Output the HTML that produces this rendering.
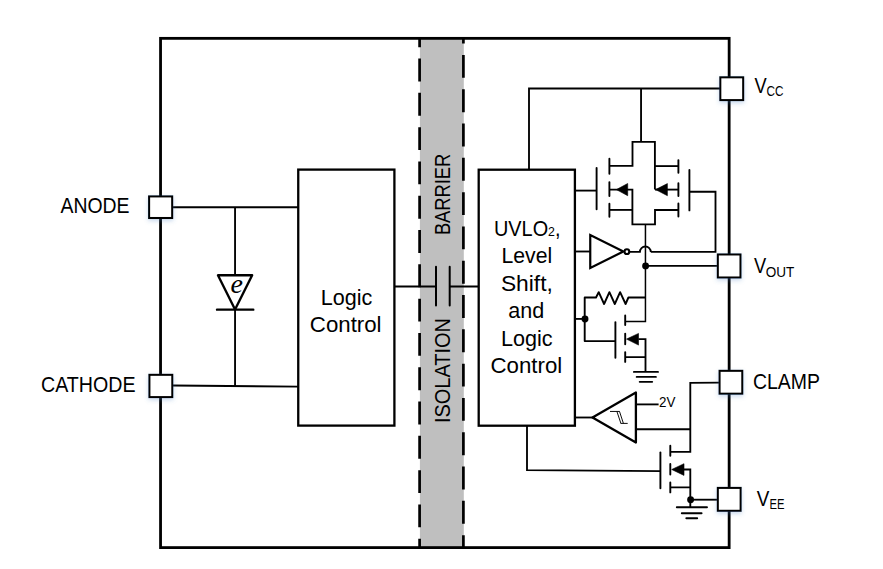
<!DOCTYPE html>
<html lang="en">
<head>
<meta charset="utf-8">
<title>Isolated gate driver block diagram</title>
<style>
  html, body { margin: 0; padding: 0; background: #ffffff; }
  body { width: 883px; height: 569px; overflow: hidden; }
  svg { display: block; }
  .w  { fill: none; stroke: #000; stroke-width: 1.85; stroke-linecap: butt; stroke-linejoin: miter; }
  .wr { fill: none; stroke: #000; stroke-width: 1.9; stroke-linecap: round; stroke-linejoin: round; }
  .b  { fill: #fff; stroke: #000; stroke-width: 2.3; }
  .t  { fill: none; stroke: #000; stroke-width: 2.1; stroke-linejoin: round; }
  .pin { fill: #fff; stroke: #000; stroke-width: 2.05; }
  .dot { fill: #000; stroke: none; }
  .arr { fill: #000; stroke: #000; stroke-width: 0.6; stroke-linejoin: round; }
  text { font-family: "Liberation Sans", sans-serif; fill: #000; }
  .lbl { font-size: 21.8px; }
  .sub { font-size: 15px; }
</style>
</head>
<body>
<svg width="883" height="569" viewBox="0 0 883 569">
  <defs>
    <filter id="sh" x="-40%" y="-40%" width="180%" height="190%">
      <feGaussianBlur in="SourceAlpha" stdDeviation="2" result="bl"/>
      <feOffset in="bl" dx="0" dy="2" result="of"/>
      <feFlood flood-color="#4a80c4" flood-opacity="0.3"/>
      <feComposite in2="of" operator="in" result="shadow"/>
      <feMerge><feMergeNode in="shadow"/><feMergeNode in="SourceGraphic"/></feMerge>
    </filter>
  </defs>

  <rect x="0" y="0" width="883" height="569" fill="#ffffff"/>

  <!-- isolation barrier -->
  <g id="barrier">
    <rect x="419.9" y="38" width="43.9" height="510" fill="#bfbfbf"/>
    <line x1="419.6" y1="38" x2="419.6" y2="548" stroke="#000" stroke-width="2.7" stroke-dasharray="22.9 11.4" stroke-dashoffset="13.75"/>
    <line x1="463.4" y1="38" x2="463.4" y2="548" stroke="#000" stroke-width="2.7" stroke-dasharray="22.9 11.4" stroke-dashoffset="17.35"/>
  </g>

  <!-- package outline -->
  <rect x="160.55" y="38.35" width="568.6" height="509.25" fill="none" stroke="#000" stroke-width="2.8"/>

  <!-- input side -->
  <g id="input-side">
    <path class="w" d="M173 207.2 H298.2"/>
    <path class="w" d="M173 385.5 L298.2 386.7"/>
    <path class="w" d="M235.05 207.2 V275 M235.05 309 V386.1"/>
    <path class="t" d="M217.95 275.2 H252.15 L235.05 309.5 Z" style="stroke-width:2.35"/>
    <path class="wr" d="M217 309.65 H253.3" style="stroke-width:2.35"/>
    <text x="236.6" y="292.6" text-anchor="middle" style="font-family:'Liberation Serif',serif;font-style:italic;font-size:28px">e</text>
    <rect class="b" x="298.25" y="169.6" width="96.15" height="256"/>
    <text class="lbl" x="346.5" y="305.35" text-anchor="middle" textLength="51.6" lengthAdjust="spacingAndGlyphs">Logic</text>
    <text class="lbl" x="345.7" y="332.35" text-anchor="middle" textLength="71.7" lengthAdjust="spacingAndGlyphs">Control</text>
  </g>

  <!-- capacitor across barrier -->
  <g id="cap">
    <path class="w" d="M394.4 286.5 H436 M449.7 286.5 H478.7"/>
    <path class="wr" d="M436 266.8 V305.4 M449.7 266.8 V305.4" style="stroke-width:2"/>
  </g>

  <!-- barrier text -->
  <text class="lbl" transform="translate(450.3 235.1) rotate(-90)" textLength="81.4" lengthAdjust="spacingAndGlyphs">BARRIER</text>
  <text class="lbl" transform="translate(450.3 423.1) rotate(-90)" textLength="105" lengthAdjust="spacingAndGlyphs">ISOLATION</text>

  <!-- output side block -->
  <g id="uvlo">
    <rect class="b" x="478.7" y="169.7" width="96.2" height="256"/>
    <text class="lbl" x="494" y="236.4" textLength="66.5" lengthAdjust="spacingAndGlyphs">UVLO<tspan style="font-size:13.5px">2</tspan>,</text>
    <text class="lbl" x="526.8" y="262.6" text-anchor="middle" textLength="50.7" lengthAdjust="spacingAndGlyphs">Level</text>
    <text class="lbl" x="526.9" y="290.6" text-anchor="middle" textLength="52" lengthAdjust="spacingAndGlyphs">Shift,</text>
    <text class="lbl" x="526.2" y="317.9" text-anchor="middle" textLength="36" lengthAdjust="spacingAndGlyphs">and</text>
    <text class="lbl" x="526.8" y="345.9" text-anchor="middle" textLength="51.6" lengthAdjust="spacingAndGlyphs">Logic</text>
    <text class="lbl" x="526.4" y="372.5" text-anchor="middle" textLength="71.7" lengthAdjust="spacingAndGlyphs">Control</text>
  </g>

  <!-- VCC rail -->
  <path class="w" d="M529 169.7 V88.45 H720 M641.05 88.45 V141.9"/>

  <!-- upper transistor pair -->
  <g id="upper-fets">
    <path class="w" d="M609.4 165.8 H632.5 V141.9 H654.9 V189.6"/>
    <path class="w" d="M654.9 166.1 H678.4"/>
    <path class="w" d="M609.4 189.6 H632.4 V224.4 H655 V209.95 H678.4"/>
    <path class="w" d="M609.4 209.9 H632.4"/>
    <path class="w" d="M655 189.6 H678.4"/>
    <path class="wr" d="M609.4 158.8 V173.7 M609.4 182.1 V196.1 M609.4 203.8 V216.8"/>
    <path class="wr" d="M678.4 160.1 V172.8 M678.4 183.2 V196.1 M678.4 203.4 V216.6"/>
    <path class="wr" d="M596.6 167.9 V209.3"/>
    <path class="wr" d="M689.4 170 V210.4"/>
    <path class="w" d="M574.9 190.6 H596.6"/>
    <path class="w" d="M689.4 191.7 H715.5 V251.9 H650.8"/>
    <path class="arr" d="M616.4 189.6 L627.7 183.5 V195.7 Z"/>
    <path class="arr" d="M655.6 189.6 L667.4 183.6 V195.7 Z"/>
  </g>

  <!-- inverter -->
  <g id="inverter">
    <path class="w" d="M574.9 251.5 H590.3"/>
    <path class="t" d="M590.25 235.1 V267.9 L623.4 251.5 Z" style="stroke-linejoin:miter;stroke-width:2.2"/>
    <circle cx="626.9" cy="251.65" r="2.35" fill="#fff" stroke="#000" stroke-width="2.1"/>
    <path class="w" d="M629.4 251.9 H639.9 A5.45 5.45 0 0 1 650.8 251.9"/>
  </g>

  <!-- output node -->
  <path class="w" d="M645.45 224.4 V321.5 H625.2" style="stroke-width:1.5"/>
  <path class="w" d="M645.5 265.9 H718"/>
  <circle class="dot" cx="645.6" cy="265.9" r="3.45"/>

  <!-- resistor + pulldown fet -->
  <g id="pulldown">
    <path class="w" d="M574.9 318.9 H585"/>
    <path class="wr" d="M615.4 341.1 H584.7 V297.5 H596 L598.7 292.2 L604.1 304 L609.4 292.2 L614.8 304 L620.1 292.2 L625.6 304 L628.4 297.5 H645.5" style="stroke-linecap:butt"/>
    <circle class="dot" cx="585" cy="318.95" r="3.45"/>
    <path class="wr" d="M615.4 322.1 V357.8"/>
    <path class="wr" d="M625.2 315.5 V325.1 M625.2 333.6 V344.3 M625.2 352.1 V361.9"/>
    <path class="w" d="M625.2 357.1 H645.5 M638.5 339.1 H645.5 V371.9"/>
    <path class="arr" d="M626.5 339.1 L638.5 333.4 V345.1 Z"/>
    <path class="wr" d="M633.9 371.9 H658 M636.7 376.9 H655.9 M639.7 381.85 H652.2"/>
  </g>

  <!-- comparator -->
  <g id="comparator">
    <path class="w" d="M574.9 417.5 H593"/>
    <path class="t" d="M635.9 392.5 V442.5 L592.5 417.5 Z" style="stroke-linejoin:round;stroke-width:2.3"/>
    <path d="M610 411.45 H619.7 M616.9 411.45 L620.9 423.4 M619.5 411.45 L623.4 423.4 M620.6 423.4 H627.7" fill="none" stroke="#000" stroke-width="0.95"/>
    <path class="w" d="M635.9 404.4 H658.6"/>
    <text x="659" y="406.9" style="font-size:14.5px" textLength="16.4" lengthAdjust="spacingAndGlyphs">2V</text>
    <path class="w" d="M635.9 429.2 H690.3"/>
  </g>

  <!-- clamp fet -->
  <g id="clamp-fet">
    <path class="w" d="M719.5 382.6 L690.3 382.8 V451.9 H670.3"/>
    <path class="w" d="M527 425.7 V470.1 L660.4 471.2"/>
    <path class="wr" d="M660.4 452.4 V488.3"/>
    <path class="wr" d="M670.3 445.8 V455.7 M670.3 464 V474.6 M670.3 482.4 V492.4"/>
    <path class="w" d="M670.3 487.4 H690.3 M684 469.5 H690.3 V507.2"/>
    <path class="arr" d="M671.7 469.5 L684 463.7 V475.4 Z"/>
    <path class="w" d="M690.5 499.7 H718"/>
    <circle class="dot" cx="690.6" cy="499.7" r="3.45"/>
    <path class="wr" d="M676.8 507.2 H707 M681.8 513.2 H701.6 M686.3 518.2 H697.2"/>
  </g>

  <!-- pins -->
  <g id="pins" filter="url(#sh)">
    <rect class="pin" x="149.1" y="196.4" width="23.1" height="21.6"/>
    <rect class="pin" x="149.4" y="374.8" width="22.9" height="22.3"/>
    <rect class="pin" x="720.3" y="77.3" width="22.9" height="22.8"/>
    <rect class="pin" x="717.8" y="254.45" width="22.7" height="23.05"/>
    <rect class="pin" x="719.55" y="370.8" width="22.75" height="22.9"/>
    <rect class="pin" x="717.8" y="487.9" width="22.85" height="22.9"/>
  </g>

  <!-- pin labels -->
  <g id="labels">
    <text class="lbl" x="60.5" y="212.7" textLength="69" lengthAdjust="spacingAndGlyphs">ANODE</text>
    <text class="lbl" x="41" y="391.6" textLength="94.5" lengthAdjust="spacingAndGlyphs">CATHODE</text>
    <text class="lbl" x="754.6" y="92.8" textLength="12.2" lengthAdjust="spacingAndGlyphs">V</text>
    <text class="sub" x="766.5" y="95.6" textLength="17" lengthAdjust="spacingAndGlyphs">CC</text>
    <text class="lbl" x="754" y="273.2" textLength="12.2" lengthAdjust="spacingAndGlyphs">V</text>
    <text class="sub" x="765.8" y="277.1" textLength="28.6" lengthAdjust="spacingAndGlyphs">OUT</text>
    <text class="lbl" x="753" y="389.3" textLength="67" lengthAdjust="spacingAndGlyphs">CLAMP</text>
    <text class="lbl" x="756.8" y="506" textLength="12.6" lengthAdjust="spacingAndGlyphs">V</text>
    <text class="sub" x="769.4" y="509" textLength="15" lengthAdjust="spacingAndGlyphs">EE</text>
  </g>
</svg>
</body>
</html>
